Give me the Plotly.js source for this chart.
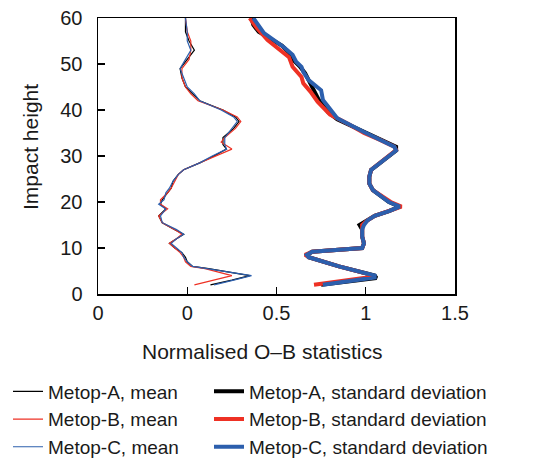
<!DOCTYPE html>
<html>
<head>
<meta charset="utf-8">
<script src="https://cdn.plot.ly/plotly-3.0.1.min.js"></script>
<style>html,body{margin:0;padding:0;background:#fff;}#chart{width:560px;height:459px;}</style>
</head>
<body>
<div id="chart"></div>
<script>
// ---- data (x = normalised O-B statistic, y = impact height) ----
const hMeanA = [60,57,55,53,51,49,47,45,43.5,42,40,38.5,37.5,36,34,32.5,31.5,30,28.5,27,26,24.5,23,22,20.5,19.5,18.5,17,15.5,14,13,12,11,10,9,8,7,6,5.5,4,3,2];
const meanA  = [-0.01,-0.01,0.01,0.04,0.0,-0.04,-0.03,-0.01,0.03,0.07,0.2,0.27,0.29,0.26,0.2,0.2,0.22,0.15,0.07,-0.02,-0.05,-0.08,-0.09,-0.11,-0.14,-0.15,-0.12,-0.16,-0.14,-0.07,-0.02,-0.06,-0.1,-0.07,-0.03,-0.01,0.0,0.03,0.12,0.35,0.25,0.13];
const hMeanB = [60,57,55,53,51,49,47,45,43.5,42,40,38.5,37.5,36,34,33,31.5,30,28.5,27,26,24.5,23,22,20.5,19.5,18.5,17,15.5,14,13,12,11,10,9,8,7,6,5.5,4,3.3,2];
const meanB  = [-0.01,0.0,0.02,0.02,0.01,-0.03,-0.03,-0.01,0.02,0.06,0.2,0.28,0.30,0.27,0.21,0.19,0.25,0.16,0.06,-0.02,-0.05,-0.07,-0.09,-0.11,-0.15,-0.15,-0.11,-0.16,-0.14,-0.07,-0.03,-0.06,-0.1,-0.07,-0.04,-0.02,-0.01,0.02,0.1,0.25,0.17,0.04];
const hMeanC = [60,57,55,53,51,49,47,45,43.5,42,40,38.5,37.5,36,34,32.5,31.5,30,28.5,27,26,24.5,23,22,20.5,19.5,18.5,17,15.5,14,13,12,11,10,9,8,7,6,5.5,4,3,2];
const meanC  = [-0.01,0.0,0.0,0.02,-0.01,-0.04,-0.02,0.0,0.04,0.07,0.19,0.26,0.28,0.25,0.21,0.21,0.22,0.14,0.07,-0.02,-0.05,-0.08,-0.1,-0.12,-0.13,-0.16,-0.12,-0.15,-0.14,-0.06,-0.02,-0.06,-0.09,-0.06,-0.03,-0.02,0.0,0.03,0.11,0.36,0.26,0.15];

const hStdA = [60,58.5,57,55.5,54,52.5,51,49.5,48,46.5,45,43.5,42,40.5,39.5,38,36.5,35,33.5,32,31.2,30,28.5,27,25.5,24,22.6,21.5,20,19,18,17,16,15.5,15,14,12.5,11,10,9.2,8.5,8,6,4.5,4,3.5,2];
const stdA  = [0.36,0.37,0.40,0.46,0.53,0.57,0.59,0.63,0.66,0.68,0.70,0.72,0.74,0.77,0.79,0.84,0.92,1.0,1.08,1.17,1.17,1.13,1.08,1.03,1.02,1.02,1.04,1.08,1.13,1.19,1.13,1.05,1.01,0.98,0.965,0.98,0.98,0.99,0.98,0.70,0.67,0.68,0.85,1.0,1.05,1.06,0.75];
const hStdB = [60,57.8,55.2,53,51.5,49.4,47.2,45.8,44,41.8,39,37,35,33.5,32,31.3,30,28.5,27,25.5,24,22.6,21.5,20,19,18,17,16,15,14,12.5,11,10,9.2,8.5,8,6,4.5,4,3.7,2];
const stdB  = [0.35,0.39,0.45,0.52,0.57,0.59,0.64,0.65,0.69,0.73,0.80,0.90,0.99,1.08,1.16,1.17,1.13,1.08,1.03,1.02,1.02,1.04,1.08,1.14,1.20,1.13,1.05,1.01,0.98,0.98,0.98,0.99,0.98,0.70,0.66,0.68,0.85,1.0,1.04,1.03,0.71];
const hStdC = [60,56.7,53.7,52,50.5,49.4,48.3,46.5,44.3,42.2,40.7,38.2,35.2,33.5,32,31.2,30,28.5,27,25.5,24,22.6,21.5,20,19,18,17,16,15,14,12.5,11,10,9.2,8.5,8,6,4.5,4,3.6,2];
const stdC  = [0.37,0.43,0.54,0.59,0.61,0.64,0.65,0.68,0.75,0.76,0.79,0.84,0.99,1.08,1.16,1.17,1.13,1.08,1.03,1.02,1.02,1.04,1.08,1.13,1.19,1.13,1.05,1.01,0.99,0.98,0.98,0.99,0.98,0.70,0.67,0.68,0.85,1.0,1.05,1.05,0.76];

const xTickVals = [-0.5,0,0.5,1,1.5];
const xTickText = ["0","0","0.5","1","1.5"];

const cA = "#000000", cB = "#ee3124", cC = "#2c5fad";
function tr(x, y, name, color, width, legend) {
  return {x: x, y: y, name: name, type: "scatter", mode: "lines", legend: legend,
          line: {color: color, width: width}, hoverinfo: "skip"};
}
const data = [
  tr(meanA, hMeanA, "Metop-A, mean", cA, 1.2, "legend"),
  tr(meanB, hMeanB, "Metop-B, mean", cB, 1.2, "legend"),
  tr(meanC, hMeanC, "Metop-C, mean", cC, 1.2, "legend"),
  tr(stdA, hStdA, "Metop-A, standard deviation", cA, 4, "legend2"),
  tr(stdB, hStdB, "Metop-B, standard deviation", cB, 4, "legend2"),
  tr(stdC, hStdC, "Metop-C, standard deviation", cC, 4, "legend2")
];

const fam = "Liberation Sans, Arial, Helvetica, sans-serif";
const font = {family: fam, size: 20, color: "#1a1a1a"};
const titleFont = {family: fam, size: 21, color: "#1a1a1a"};
const legFont = {family: fam, size: 19, color: "#1a1a1a"};
const layout = {
  width: 560, height: 459,
  margin: {l: 98, r: 105, t: 18, b: 165, autoexpand: false},
  paper_bgcolor: "#fff", plot_bgcolor: "#fff",
  font: font,
  showlegend: true,
  xaxis: {range: [-0.5, 1.5], tickvals: xTickVals, ticktext: xTickText,
          ticks: "inside", ticklen: 7, tickcolor: "#000", tickwidth: 1.2,
          showline: true, mirror: true, linecolor: "#000", linewidth: 1.5,
          showgrid: false, zeroline: false, fixedrange: true},
  yaxis: {range: [0, 60], dtick: 10, tick0: 0, ticksuffix: "\u2002",
          ticks: "inside", ticklen: 7, tickcolor: "#000", tickwidth: 1.2,
          showline: true, mirror: true, linecolor: "#000", linewidth: 1.5,
          showgrid: false, zeroline: false, fixedrange: true},
  legend: {orientation: "v", xref: "container", yref: "container",
           x: 8/560, xanchor: "left", y: 1 - 372.5/459, yanchor: "top",
           font: legFont, bgcolor: "rgba(0,0,0,0)", borderwidth: 0},
  legend2: {orientation: "v", xref: "container", yref: "container",
           x: 209/560, xanchor: "left", y: 1 - 372.5/459, yanchor: "top",
           font: legFont, bgcolor: "rgba(0,0,0,0)", borderwidth: 0},
  annotations: [
    {text: "Normalised O–B statistics", xref: "paper", yref: "paper",
     x: (262 - 98) / 357, y: -(351 - 294) / 276, xanchor: "center", yanchor: "middle",
     showarrow: false, font: titleFont},
    {text: "Impact height", xref: "paper", yref: "paper",
     x: -(98 - 30) / 357, y: (294 - 147) / 276, xanchor: "center", yanchor: "middle",
     textangle: -90, showarrow: false, font: titleFont}
  ]
};
Plotly.newPlot("chart", data, layout, {displayModeBar: false, staticPlot: true});
</script>
</body>
</html>
